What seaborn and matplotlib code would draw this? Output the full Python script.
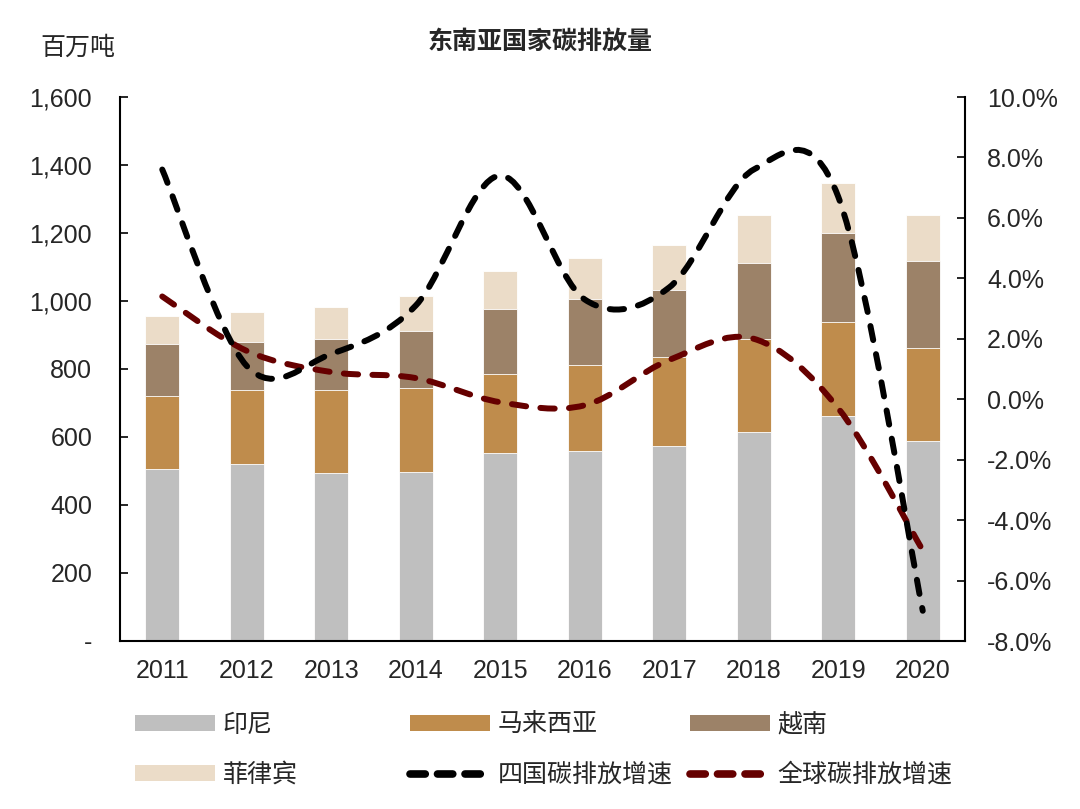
import numpy as np
import pandas as pd
import matplotlib
matplotlib.use("Agg")
import matplotlib.pyplot as plt
import seaborn as sns
from matplotlib.path import Path
from matplotlib.patches import PathPatch, Patch
from matplotlib.lines import Line2D
from matplotlib.ticker import FuncFormatter, FixedLocator

# Data
years = ["2011", "2012", "2013", "2014", "2015", "2016", "2017", "2018", "2019", "2020"]
indonesia = [505, 522, 495, 498, 552, 560, 575, 616, 662, 588]
malaysia = [216, 215, 243, 245, 232, 252, 260, 272, 277, 274]
vietnam = [152, 142, 149, 170, 192, 193, 196, 223, 261, 255]
philippines = [84, 89, 96, 103, 112, 121, 135, 141, 147, 136]
growth_four = [7.6, 1.1, 1.5, 3.1, 7.4, 3.3, 3.7, 7.6, 6.7, -7.0]
growth_world = [3.4, 1.6, 0.9, 0.7, -0.1, -0.2, 1.3, 2.0, -0.3, -5.0]

series_names = ["印尼", "马来西亚", "越南", "菲律宾"]
colors = ["#BFBFBF", "#BF8C4C", "#9C8268", "#EBDCC8"]
line_black = "#000000"
line_red = "#660000"

sns.set_theme(style="white")
plt.rcParams["font.family"] = ["Liberation Sans", "Noto Sans CJK SC", "DejaVu Sans"]
plt.rcParams["axes.unicode_minus"] = False
FS = 18
LW = 4.3


def smooth_path(xs, ys):
    """Excel-like smoothed line as cubic Bezier segments through the data points."""
    pts = np.column_stack([xs, ys]).astype(float)
    n = len(pts)
    verts = [pts[0]]
    codes = [Path.MOVETO]
    for i in range(n - 1):
        p0 = pts[i - 1] if i > 0 else pts[i]
        p3 = pts[i + 2] if i + 2 < n else pts[i + 1]
        c1 = pts[i] + (pts[i + 1] - p0) / 6
        c2 = pts[i + 1] - (p3 - pts[i]) / 6
        verts += [c1, c2, pts[i + 1]]
        codes += [Path.CURVE4] * 3
    return Path(verts, codes)


df = pd.DataFrame({"year": years, "印尼": indonesia, "马来西亚": malaysia,
                   "越南": vietnam, "菲律宾": philippines})
cum = df[series_names].cumsum(axis=1)

fig = plt.figure(figsize=(10.8, 8.09), dpi=100)
ax = fig.add_axes([120 / 1080, 1 - 641 / 809, 845 / 1080, 544 / 809])

# stacked bars: draw tallest cumulative first
for name, color in reversed(list(zip(series_names, colors))):
    sns.barplot(x=df["year"], y=cum[name], color=color, width=0.4,
                edgecolor="white", linewidth=0.6, saturation=1, ax=ax)

ax.set_xlim(-0.5, 9.5)
ax.set_ylim(0, 1600)
ax.set_yticks(np.arange(0, 1601, 200))
ax.yaxis.set_major_formatter(FuncFormatter(lambda v, p: "-" if v == 0 else f"{v:,.0f}"))
ax.set_xlabel("")
ax.set_ylabel("")
ax.xaxis.set_minor_locator(FixedLocator(np.arange(-0.5, 10, 1)))
ax.tick_params(axis="x", which="major", length=0, pad=13, labelsize=FS)
ax.tick_params(axis="x", which="minor", length=6, width=1.2, direction="in", color="black")
ax.tick_params(axis="y", which="major", length=6, width=1.2, direction="in",
               pad=20, labelsize=FS, color="black", left=True)
for s in ["top", "right"]:
    ax.spines[s].set_visible(False)
for s in ["left", "bottom"]:
    ax.spines[s].set_color("black")
    ax.spines[s].set_linewidth(1.5)

ax2 = ax.twinx()
ax2.set_ylim(-8, 10)
ax2.set_yticks(np.arange(-8, 10.1, 2))
ax2.yaxis.set_major_formatter(FuncFormatter(lambda v, p: f"{v:.1f}%"))
ax2.tick_params(axis="y", length=6, width=1.2, direction="in", pad=16,
                labelsize=FS, color="black", right=True)
for s in ["top", "left", "bottom"]:
    ax2.spines[s].set_visible(False)
ax2.spines["right"].set_color("black")
ax2.spines["right"].set_linewidth(1.5)

xpos = np.arange(len(years))
for vals, c in [(growth_world, line_red), (growth_four, line_black)]:
    patch = PathPatch(smooth_path(xpos, vals), fill=False, edgecolor=c, lw=LW,
                      linestyle=(0, (2.4, 2.4)), capstyle="round", zorder=5)
    ax2.add_patch(patch)

# titles
fig.text(540 / 1080, 1 - 42 / 809, "东南亚国家碳排放量", ha="center", va="center",
         fontsize=FS, fontweight="bold")
fig.text(40 / 1080, 1 - 48 / 809, "百万吨", ha="left", va="center", fontsize=FS)


# legend: three columns placed separately
def patch_h(c):
    return Patch(facecolor=c, edgecolor="none")


def line_h(c):
    return Line2D([], [], color=c, lw=5.5, linestyle=(0, (2.0, 1.6)),
                  dash_capstyle="round")


cols = [
    (135, [patch_h(colors[0]), patch_h(colors[3])], ["印尼", "菲律宾"]),
    (410, [patch_h(colors[1]), line_h(line_black)], ["马来西亚", "四国碳排放增速"]),
    (690, [patch_h(colors[2]), line_h(line_red)], ["越南", "全球碳排放增速"]),
]
for x0, handles, labels in cols:
    fig.legend(handles, labels, loc="upper left",
               bbox_to_anchor=(x0 / 1080, 1 - 713 / 809), frameon=False,
               fontsize=FS, handlelength=3.2, handleheight=0.6, handletextpad=0.3,
               labelspacing=1.04, borderpad=0, borderaxespad=0)

fig.savefig("out.png", dpi=100)
